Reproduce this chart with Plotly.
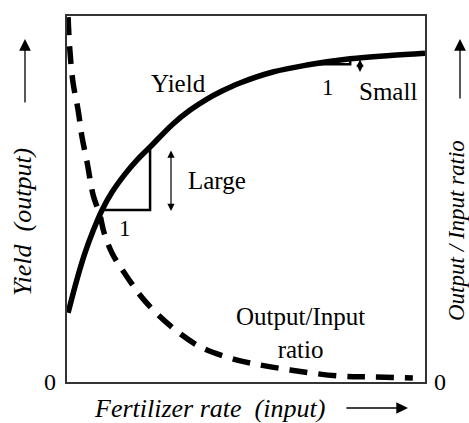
import numpy as np
import plotly.graph_objects as go

# ---- data (axis units: 0..100 on both axes) ----
yield_x = [0.3, 2.8, 5.0, 7.3, 9.8, 12.6, 16.2, 19.6, 23.2, 29.6, 34.4, 39.1, 43.3, 48.3, 57.5, 67.0, 79.1, 90.2, 100.0]
yield_y = [18.9, 28.1, 35.2, 41.3, 47.0, 51.9, 56.8, 60.7, 64.2, 70.5, 74.3, 77.3, 79.5, 81.7, 84.7, 86.6, 88.3, 89.2, 89.8]

ratio_x = [0.3, 0.8, 1.7, 3.1, 4.2, 5.6, 7.3, 9.2, 10.3, 12.6, 16.8, 21.8, 29.3, 37.2, 44.7, 51.1, 62.3, 76.3, 85.5, 96.6]
ratio_y = [99.7, 90.7, 81.7, 74.3, 66.9, 60.1, 51.1, 45.6, 41.0, 35.2, 28.7, 22.1, 15.0, 9.6, 6.8, 5.2, 3.3, 1.6, 1.4, 1.1]

slope_start = [9.8, 68.7]
slope_run = [13.4, 10.4]

W, H = 469, 423
L, R, T, B = 67, 425, 16, 382

def px(xp):
    return (xp - L) / (R - L)

def py(yp):
    return (B - yp) / (B - T)

FONT = "Liberation Serif, Times New Roman, serif"

fig = go.Figure()
fig.add_trace(go.Scatter(x=yield_x, y=yield_y, mode="lines",
                         line=dict(color="black", width=5.5, shape="spline", smoothing=1.0),
                         hoverinfo="skip"))
fig.add_trace(go.Scatter(x=ratio_x, y=ratio_y, mode="lines",
                         line=dict(color="black", width=5.5, shape="spline", smoothing=1.0,
                                   dash="18px,11px"),
                         hoverinfo="skip"))

# slope triangles
for xs, run in zip(slope_start, slope_run):
    y0 = float(np.interp(xs, yield_x, yield_y))
    y1 = float(np.interp(xs + run, yield_x, yield_y))
    fig.add_trace(go.Scatter(x=[xs, xs + run, xs + run], y=[y0, y0, y1], mode="lines",
                             line=dict(color="black", width=2.5), hoverinfo="skip"))

annotations = []

def text(s, x, y, size=25, italic=False, angle=0, xanchor="center"):
    if italic:
        s = "<i>" + s + "</i>"
    annotations.append(dict(text=s, x=px(x), y=py(y), xref="paper", yref="paper",
                            showarrow=False, xanchor=xanchor, yanchor="middle",
                            textangle=angle,
                            font=dict(family=FONT, size=size, color="black")))

def arrow(x0, y0, x1, y1, both=False, size=1.0, width=1.3):
    annotations.append(dict(text="", x=px(x1), y=py(y1), xref="paper", yref="paper",
                            ax=x0 - x1, ay=y0 - y1, axref="pixel", ayref="pixel",
                            showarrow=True, arrowhead=2, arrowsize=size, arrowwidth=width,
                            arrowcolor="black", arrowside="end+start" if both else "end",
                            standoff=0, startstandoff=0))

text("Yield", 178, 83)
text("Large", 186, 180, xanchor="left")
text("1", 125, 228, size=23)
text("1", 328, 87, size=23)
text("Small", 388, 91)
text("Output/Input<br>ratio", 300, 333)
text("0", 50, 382, size=24)
text("0", 440, 382, size=24)
text("Fertilizer rate  (input)", 92, 408, size=26, italic=True, xanchor="left")
text("Yield  (output)", 23, 222, size=26, italic=True, angle=-90)
text("Output / Input ratio", 456, 231, size=23, italic=True, angle=-90)

arrow(171, 149, 171, 211, both=True, size=1.2, width=1.2)
arrow(360, 58, 360, 72, both=True, size=1.1, width=1.3)
arrow(25, 104, 25, 39, size=1.8, width=1.3)
arrow(460, 100, 460, 39, size=1.8, width=1.3)
arrow(345, 408, 408, 408, size=1.8, width=1.3)

fig.update_layout(
    width=W, height=H,
    margin=dict(l=L, r=W - R, t=T, b=H - B),
    paper_bgcolor="white", plot_bgcolor="white",
    showlegend=False,
    annotations=annotations,
    xaxis=dict(range=[0, 100], showgrid=False, zeroline=False, showticklabels=False,
               ticks="", showline=True, mirror=True, linecolor="#333", linewidth=1.5),
    yaxis=dict(range=[0, 100], showgrid=False, zeroline=False, showticklabels=False,
               ticks="", showline=True, mirror=True, linecolor="#333", linewidth=1.5),
)

fig.write_html("out.html", config={"displayModeBar": False},
               post_script="document.body.style.margin='0px';")
